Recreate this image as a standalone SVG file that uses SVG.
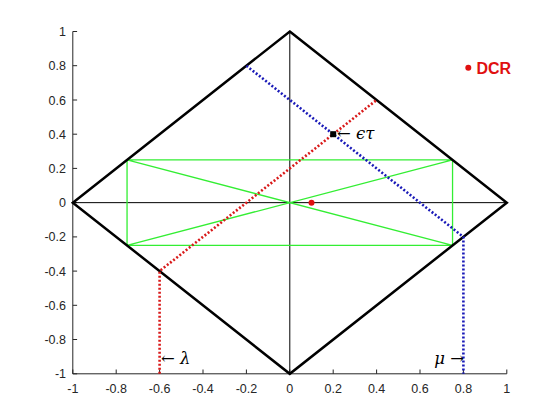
<svg xmlns="http://www.w3.org/2000/svg" width="560" height="420" viewBox="0 0 560 420">
<style>
.tick{font-family:"Liberation Sans",Arial,sans-serif;font-size:12.5px;fill:#262626}
.xl{text-anchor:middle}
.yl{text-anchor:end}
.ax{stroke:#262626;stroke-width:1;fill:none}
.dia{stroke:#000;stroke-width:2.5;fill:none;stroke-linejoin:miter}
.grn{stroke:#33ee33;stroke-width:1.3;fill:none}
.red{stroke:#d91a1a;stroke-width:2.6;fill:none;stroke-dasharray:2 2}
.blu{stroke:#1a1ab8;stroke-width:2.6;fill:none;stroke-dasharray:2 2}
.math{font-family:"DejaVu Serif","Liberation Serif",serif;font-size:16.5px;fill:#000}
</style>
<rect width="560" height="420" fill="#fff"/>
<g id="axes">
<path class="ax" d="M72.8,373.8H506.8M72.8,373.8V31.5"/>
<path class="ax" d="M72.8,373.8v-4.3M116.2,373.8v-4.3M159.6,373.8v-4.3M203,373.8v-4.3M246.4,373.8v-4.3M289.8,373.8v-4.3M333.2,373.8v-4.3M376.6,373.8v-4.3M420,373.8v-4.3M463.4,373.8v-4.3M506.8,373.8v-4.3"/>
<path class="ax" d="M72.8,31.5h4.3M72.8,65.7h4.3M72.8,100h4.3M72.8,134.2h4.3M72.8,168.4h4.3M72.8,202.65h4.3M72.8,236.9h4.3M72.8,271.1h4.3M72.8,305.3h4.3M72.8,339.5h4.3M72.8,373.8h4.3"/>
<g class="tick xl">
<text x="72.8" y="393">-1</text><text x="116.2" y="393">-0.8</text><text x="159.6" y="393">-0.6</text><text x="203" y="393">-0.4</text><text x="246.4" y="393">-0.2</text><text x="289.8" y="393">0</text><text x="333.2" y="393">0.2</text><text x="376.6" y="393">0.4</text><text x="420" y="393">0.6</text><text x="463.4" y="393">0.8</text><text x="506.8" y="393">1</text>
</g>
<g class="tick yl">
<text x="66" y="36">1</text><text x="66" y="70.2">0.8</text><text x="66" y="104.5">0.6</text><text x="66" y="138.7">0.4</text><text x="66" y="172.9">0.2</text><text x="66" y="207.1">0</text><text x="66" y="241.4">-0.2</text><text x="66" y="275.6">-0.4</text><text x="66" y="309.8">-0.6</text><text x="66" y="344">-0.8</text><text x="66" y="378.3">-1</text>
</g>
</g>
<g id="cross">
<path stroke="#000" stroke-width="1" fill="none" d="M72.8,202.65H506.8M289.8,31.5V373.8"/>
</g>
<g id="rect">
<path class="grn" d="M127.05,159.9H452.55V245.4H127.05Z M127.05,159.9L452.55,245.4 M127.05,245.4L452.55,159.9"/>
</g>
<g id="diamond">
<path class="dia" d="M289.8,31.5L506.8,202.65L289.8,373.8L72.8,202.65Z"/>
</g>
<g id="connectors">
<path class="red" d="M159.6,373.8V271.1L376.6,100"/>
<path class="blu" d="M246.4,65.7L463.4,236.9V373.8"/>
</g>
<g id="points">
<rect x="330.2" y="131.2" width="6" height="6" fill="#000"/>
<circle cx="311.5" cy="202.65" r="3" fill="#e01010"/>
<circle cx="468.3" cy="67.7" r="3" fill="#e01010"/>
<text x="476.5" y="73.5" font-family="Liberation Sans,Arial,sans-serif" font-size="16" font-weight="bold" fill="#e01010">DCR</text>
</g>
<g id="labels">
<text class="math" x="337" y="138.5">← <tspan font-style="italic">ϵτ</tspan></text>
<text class="math" x="161" y="364">← <tspan font-style="italic">λ</tspan></text>
<text class="math" x="464" y="364" text-anchor="end"><tspan font-style="italic">μ</tspan> →</text>
</g>
</svg>
